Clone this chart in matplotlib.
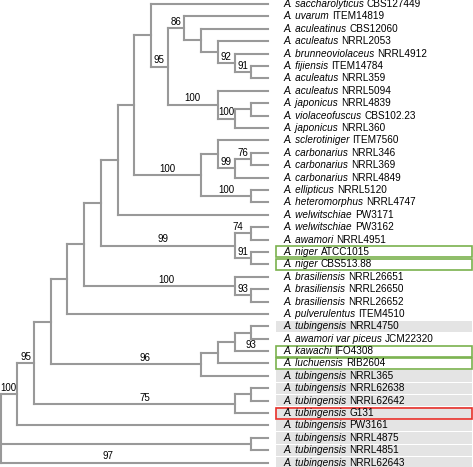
import matplotlib
matplotlib.use("Agg")
import matplotlib.pyplot as plt
from matplotlib.patches import Rectangle

# leaf labels, top to bottom
species = [
    "A. saccharolyticus", "A. uvarum", "A. aculeatinus", "A. aculeatus",
    "A. brunneoviolaceus", "A. fijiensis", "A. aculeatus", "A. aculeatus",
    "A. japonicus", "A. violaceofuscus", "A. japonicus", "A. sclerotiniger",
    "A. carbonarius", "A. carbonarius", "A. carbonarius", "A. ellipticus",
    "A. heteromorphus", "A. welwitschiae", "A. welwitschiae", "A. awamori",
    "A. niger", "A. niger", "A. brasiliensis", "A. brasiliensis",
    "A. brasiliensis", "A. pulverulentus", "A. tubingensis",
    "A. awamori var piceus", "A. kawachi", "A. luchuensis",
    "A. tubingensis", "A. tubingensis", "A. tubingensis", "A. tubingensis",
    "A. tubingensis", "A. tubingensis", "A. tubingensis", "A. tubingensis",
]
strains = [
    "CBS127449", "ITEM14819", "CBS12060", "NRRL2053", "NRRL4912", "ITEM14784",
    "NRRL359", "NRRL5094", "NRRL4839", "CBS102.23", "NRRL360", "ITEM7560",
    "NRRL346", "NRRL369", "NRRL4849", "NRRL5120", "NRRL4747", "PW3171",
    "PW3162", "NRRL4951", "ATCC1015", "CBS513.88", "NRRL26651", "NRRL26650",
    "NRRL26652", "ITEM4510", "NRRL4750", "JCM22320", "IFO4308", "RIB2604",
    "NRRL365", "NRRL62638", "NRRL62642", "G131", "PW3161", "NRRL4875",
    "NRRL4851", "NRRL62643",
]

# topology (leaf = row index) with bootstrap support on internal nodes
tree_newick = (
    "((((((((((0,((1,(2,(3,(4,(5,6)91)92)))86,(7,((8,9),10)100)100)95),"
    "((11,((12,13)76,14)99),(15,16)100)100),17),((18,19)74,(20,21)91)99),"
    "(22,(23,24)93)100),25),((((26,27),28),29),30)96),((31,32),33)75)95,"
    "34)100,(35,36),37);"
)
# support values drawn on terminal branches: (row, text, fraction along branch)
leaf_branch_labels = [(28, "93", 0.5), (37, "97", 0.4)]
# a few long-branch labels sit off the branch midpoint (first row of clade -> shift)
label_shift = {26: 1.15, 31: 0.62, 18: -0.3, 22: 0.42}

grey_rows = [26, 30, 31, 32, 33, 34, 35, 36, 37]
green_rows = [20, 21, 28, 29]
red_rows = [33]

LINE = "#999999"
FONT = "Liberation Sans"


def parse(s, i=0):
    if s[i] == "(":
        children = []
        i += 1
        while True:
            child, i = parse(s, i)
            children.append(child)
            if s[i] == ",":
                i += 1
            else:
                i += 1
                break
        j = i
        while s[j] not in ",);":
            j += 1
        return {"children": children, "support": s[i:j]}, j
    j = i
    while s[j] not in ",);":
        j += 1
    return {"leaf": int(s[i:j])}, j


def height(node):
    if "leaf" in node:
        node["h"] = 0
    else:
        node["h"] = 1 + max(height(c) for c in node["children"])
    return node["h"]


def place(node, top):
    node["x"] = top - node["h"]
    if "leaf" in node:
        node["x"] = top
        node["y"] = node["leaf"]
        node["first"] = node["leaf"]
    else:
        for c in node["children"]:
            place(c, top)
        node["y"] = (node["children"][0]["y"] + node["children"][-1]["y"]) / 2
        node["first"] = node["children"][0]["first"]


root, _ = parse(tree_newick)
top = height(root)
place(root, top)

fig = plt.figure(figsize=(4.73, 4.67), dpi=100)
ax = fig.add_axes([0, 0, 1, 1])
ax.set_xlim(-0.03, 28.26)
ax.set_ylim(37.35, -0.323)
ax.axis("off")

leaf_parent = {}


def draw(node):
    if "leaf" in node:
        return
    kids = node["children"]
    ax.plot([node["x"], node["x"]], [kids[0]["y"], kids[-1]["y"]],
            color=LINE, lw=1.5, solid_capstyle="projecting")
    for c in kids:
        ax.plot([node["x"], c["x"]], [c["y"], c["y"]],
                color=LINE, lw=1.5, solid_capstyle="projecting")
        if "leaf" in c:
            leaf_parent[c["leaf"]] = node["x"]
        elif c["support"]:
            lx = (node["x"] + c["x"]) / 2 + label_shift.get(c["first"], 0)
            ax.text(lx, c["y"] - 0.1, c["support"],
                    ha="center", va="bottom", fontsize=7, family=FONT)
        draw(c)


draw(root)

for row, txt, frac in leaf_branch_labels:
    x0 = leaf_parent[row]
    ax.text(x0 + frac * (top - x0), row - 0.1, txt,
            ha="center", va="bottom", fontsize=7, family=FONT)

box_x0 = top + 0.47
box_x1 = 28.2
for r in grey_rows:
    ax.add_patch(Rectangle((box_x0, r - 0.46), box_x1 - box_x0, 0.92,
                           facecolor="#e4e4e4", edgecolor="none", zorder=0))
for rows, col in [(green_rows, "#7ab24e"), (red_rows, "#e8302a")]:
    for r in rows:
        face = "#e4e4e4" if r in grey_rows else "white"
        ax.add_patch(Rectangle((box_x0, r - 0.44), box_x1 - box_x0, 0.88,
                               facecolor=face, edgecolor=col, lw=1.2, zorder=1))

for i, (sp, st) in enumerate(zip(species, strains)):
    t = ax.annotate(sp, xy=(top, i), xytext=(10.8, 0), textcoords="offset points",
                    ha="left", va="center", fontsize=7.2, style="italic",
                    family=FONT, zorder=3)
    ax.annotate(st, xy=(1, 0), xycoords=t, xytext=(2.2, 0),
                textcoords="offset points", ha="left", va="bottom",
                fontsize=7.2, family=FONT, zorder=3)

fig.savefig("out.png", dpi=100)
